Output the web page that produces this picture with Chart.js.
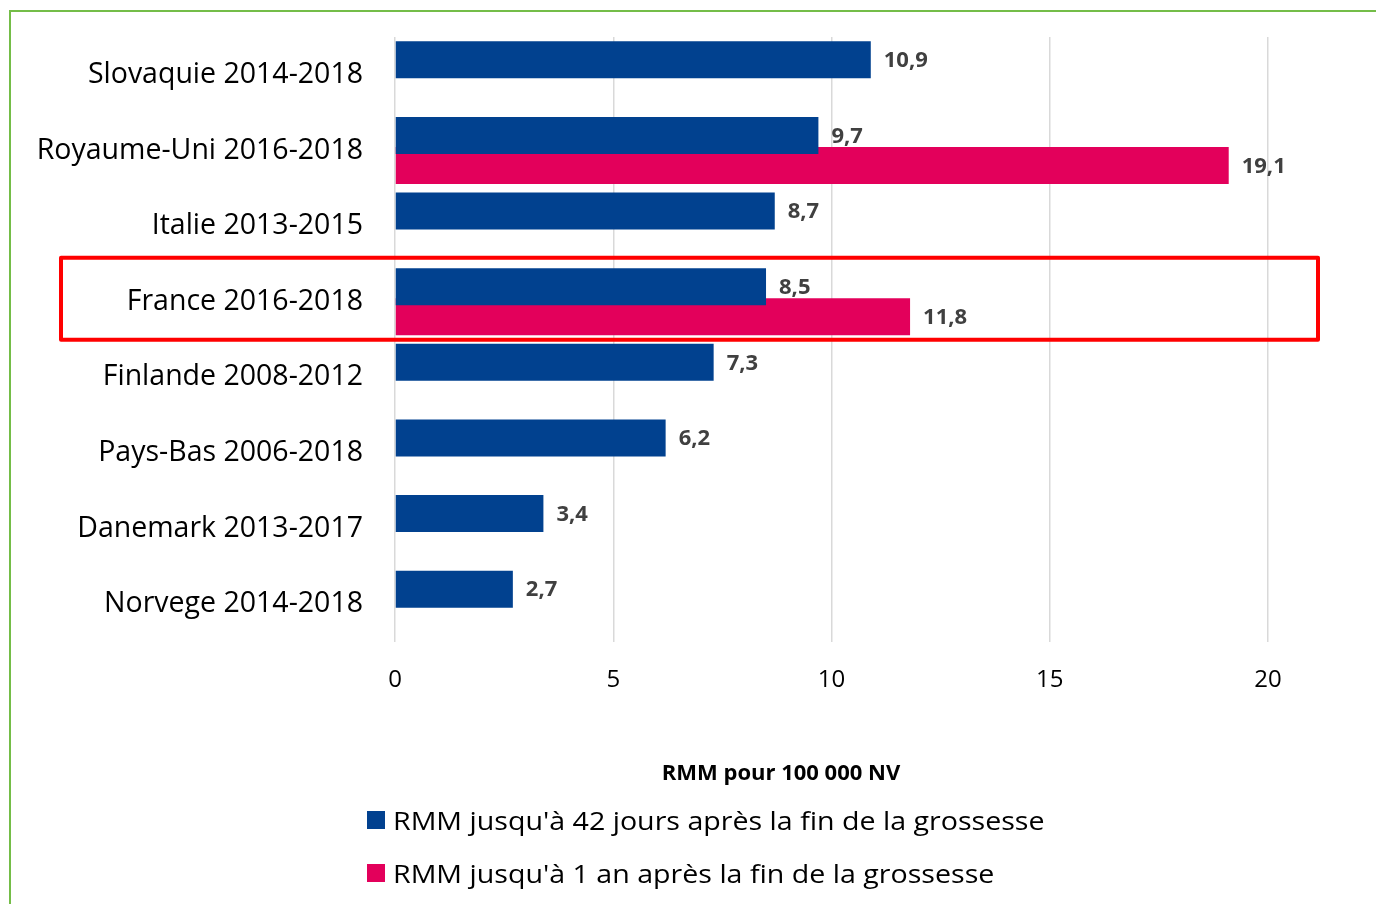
<!DOCTYPE html>
<html lang="fr">
<head>
<meta charset="utf-8">
<title>RMM Europe</title>
<script src="https://cdn.jsdelivr.net/npm/chart.js@4.4.1/dist/chart.umd.min.js"></script>
<style>
    body { margin: 0; background: #ffffff; font-family: "Open Sans", sans-serif; }
    #wrap { position: relative; width: 1376px; height: 904px; overflow: hidden; }
    #frame { position: absolute; left: 9px; top: 10px; width: 1400px; height: 940px; border-left: 2px solid #74BD48; border-top: 2px solid #74BD48; }
    #chartBox { position: absolute; left: 0; top: 0; width: 1376px; height: 904px; }
    #axisTitle { position: absolute; left: 581px; width: 400px; top: 756px; text-align: center; font-weight: bold; font-size: 22px; color: #000; }
    .legend-item { position: absolute; left: 367px; height: 30px; font-size: 26px; color: #000; display: flex; align-items: center; white-space: nowrap; }
    .legend-item span.box { display: inline-block; width: 18px; height: 18px; margin-right: 8px; }
    .legend-item span.txt { display: inline-block; transform: scaleX(1.1); transform-origin: left center; }
</style>
</head>
<body>
<div id="wrap">
    <div id="chartBox"><canvas id="rmmChart"></canvas></div>
    <div id="frame"></div>
    <div id="axisTitle">RMM pour 100 000 NV</div>
    <div id="legend"></div>
</div>
<script>
// Data
const categories = ['Slovaquie 2014-2018', 'Royaume-Uni 2016-2018', 'Italie 2013-2015', 'France 2016-2018',
    'Finlande 2008-2012', 'Pays-Bas 2006-2018', 'Danemark 2013-2017', 'Norvege 2014-2018'];
const rmm42Jours = [10.9, 9.7, 8.7, 8.5, 7.3, 6.2, 3.4, 2.7];
const rmm1An = [null, 19.1, null, 11.8, null, null, null, null];
const seriesLabels = ["RMM jusqu'à 42 jours après la fin de la grossesse", "RMM jusqu'à 1 an après la fin de la grossesse"];
const xTicks = [0, 5, 10, 15, 20];
const highlighted = 'France 2016-2018';

const blue = '#01418F';
const pink = '#E3005B';
const fontFamily = '"Open Sans", sans-serif';

// value labels at the end of each bar (french decimal comma)
const valueLabels = {
    id: 'valueLabels',
    afterDatasetsDraw(chart) {
        const ctx = chart.ctx;
        ctx.save();
        ctx.font = 'bold 22px ' + fontFamily;
        ctx.fillStyle = '#404040';
        ctx.textAlign = 'left';
        ctx.textBaseline = 'middle';
        chart.data.datasets.forEach((ds, i) => {
            chart.getDatasetMeta(i).data.forEach((bar, j) => {
                const v = ds.data[j];
                if (v === null) return;
                ctx.fillText(v.toFixed(1).replace('.', ','), bar.x + 13, bar.y + 1);
            });
        });
        ctx.restore();
    }
};

// red frame round the highlighted category
const highlightBox = {
    id: 'highlightBox',
    afterDraw(chart) {
        const ctx = chart.ctx;
        const y = chart.scales.y.getPixelForValue(categories.indexOf(highlighted));
        const area = chart.chartArea;
        ctx.save();
        ctx.strokeStyle = '#FF0000';
        ctx.lineWidth = 4;
        ctx.lineJoin = 'round';
        ctx.strokeRect(area.left - 334, y - 44, area.right - area.left + 384, 82);
        ctx.restore();
    }
};

const chart = new Chart(document.getElementById('rmmChart'), {
    type: 'bar',
    data: {
        labels: categories,
        datasets: [
            { label: seriesLabels[0], data: rmm42Jours, backgroundColor: blue, categoryPercentage: 0.794, barPercentage: 1.23 },
            { label: seriesLabels[1], data: rmm1An, backgroundColor: pink, categoryPercentage: 0.794, barPercentage: 1.23 }
        ]
    },
    options: {
        indexAxis: 'y',
        responsive: true,
        maintainAspectRatio: false,
        animation: false,
        layout: { padding: { top: 37, right: 108, bottom: 202, left: 0 } },
        plugins: {
            legend: { display: false },
            tooltip: { enabled: false }
        },
        scales: {
            x: {
                min: 0,
                max: 20,
                afterBuildTicks: (scale) => { scale.ticks = xTicks.map(v => ({ value: v })); },
                afterFit: (scale) => { scale.height = 60; scale.paddingLeft = 0; scale.paddingRight = 0; },
                grid: { color: '#D9D9D9', lineWidth: 1.5, drawTicks: false },
                border: { display: false },
                ticks: { padding: 24, color: '#000', font: { family: fontFamily, size: 24 } }
            },
            y: {
                afterFit: (scale) => { scale.width = 395; scale.paddingTop = 0; scale.paddingBottom = 0; },
                grid: { display: false, drawTicks: false },
                border: { display: false },
                ticks: { padding: 32, color: '#000', font: { family: fontFamily, size: 28.5 } }
            }
        }
    },
    plugins: [valueLabels, highlightBox]
});

// legend below the chart, one series per line
const legend = document.getElementById('legend');
chart.data.datasets.forEach((ds, i) => {
    const item = document.createElement('div');
    item.className = 'legend-item';
    item.style.top = (805 + i * 53) + 'px';
    item.innerHTML = '<span class="box" style="background:' + ds.backgroundColor + '"></span><span class="txt">' + ds.label + '</span>';
    legend.appendChild(item);
});
</script>
</body>
</html>
